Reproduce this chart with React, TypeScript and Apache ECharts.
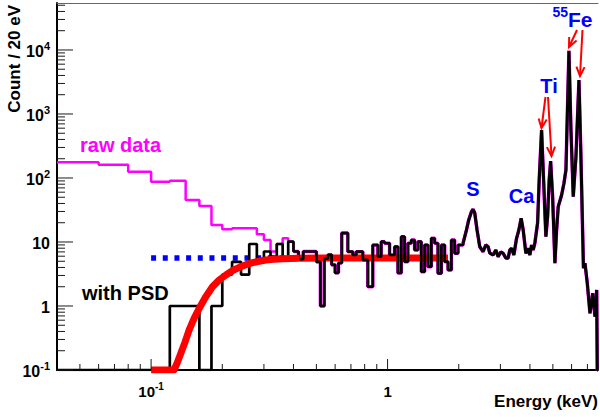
import React, { useEffect, useRef } from 'react';
import * as echarts from 'echarts';

// ---------- axis ranges & ticks (keV, counts / 20 eV) ----------
const X_MIN = 0.04;
const X_MAX = 7.76;
const Y_MIN = 0.1;
const Y_MAX = 54200;

const xMajorTicks = [0.1, 1];
const xMinorTicks = [0.05, 0.06, 0.07, 0.08, 0.09, 0.2, 0.3, 0.4, 0.5, 0.6, 0.7, 0.8, 0.9, 2, 3, 4, 5, 6, 7];
const yMajorTicks = [0.1, 1, 10, 100, 1000, 10000];
const yMinorFactors = [2, 3, 4, 5, 6, 7, 8, 9];

// ---------- raw data (magenta), bins: left edges ----------
const rawEdges = [0.04, 0.06, 0.08, 0.10, 0.12, 0.14, 0.16, 0.18, 0.20, 0.22, 0.28, 0.30, 0.32, 0.34, 0.36, 0.38];
const rawCounts = [176, 161, 125, 87.5, 90.7, 45.3, 36.5, 18.4, 15.8, 16.4, 13.2, 10.7, 7.1, 9.3, 11.4, 10.1];

// ---------- with PSD (black), histogram part: left edges ----------
const psdStepE = [0.04, 0.12, 0.14, 0.16, 0.18, 0.20, 0.22, 0.24, 0.26, 0.28, 0.30, 0.32, 0.34, 0.36, 0.38,
  0.40, 0.42, 0.44, 0.46, 0.48, 0.50, 0.52, 0.54, 0.56, 0.58, 0.60, 0.62, 0.64, 0.679, 0.713, 0.737, 0.786,
  0.825, 0.866, 0.910, 0.940, 0.971, 1.020, 1.071, 1.106, 1.143, 1.180, 1.219, 1.260, 1.301, 1.344, 1.389,
  1.435, 1.482, 1.532, 1.582, 1.633, 1.689, 1.744, 1.801, 1.862, 1.922, 1.986, 2.085];
const psdStepC = [0, 1, 1, 0, 1, 3.1, 4.9, 3.1, 9.3, 5.0, 7.1, 5.9, 9.3, 5.4, 10.1,
  7.1, 5.4, 7.1, 7.1, 7.1, 4.9, 1.0, 5.5, 6.3, 4.4, 3.3, 4.7, 13.8, 7.05, 6.26, 7.05, 5.24,
  2.0, 8.98, 5.89, 10.1, 9.55, 6.26, 8.45, 3.28, 12.1, 4.92, 9.55, 10.7, 7.5, 10.1, 3.44,
  8.98, 4.11, 11.4, 9.55, 3.24, 8.98, 4.92, 3.65, 10.7, 6.66, 8.98, 9.55];

// ---------- with PSD (black), fine-binned peak region ----------
const psdLineE = [2.085, 2.156, 2.204, 2.263, 2.298, 2.337, 2.390, 2.454, 2.534, 2.602,
  2.661, 2.705, 2.794, 2.869, 2.934, 3.012, 3.081, 3.162, 3.234, 3.288,
  3.344, 3.420, 3.511, 3.591, 3.672, 3.745, 3.845, 3.932, 3.998, 4.064,
  4.128, 4.197, 4.309, 4.377, 4.480, 4.672, 4.750, 4.825, 4.892, 4.988,
  5.101, 5.186, 5.268, 5.445, 5.570, 5.679, 5.848, 5.963, 6.099, 6.261,
  6.447, 6.561, 6.736, 6.835, 6.992, 7.178, 7.370, 7.536, 7.661, 7.705, 7.76];
const psdLineC = [9.55, 15.4, 22.1, 29.7, 32.4, 28.4, 15.4, 8.45, 7.05, 8.98,
  8.45, 6.73, 6.26, 7.5, 5.89, 6.98, 6.66, 5.62, 5.58, 7.5,
  7.97, 6.26, 11.4, 15.4, 23.5, 15.4, 6.66, 7.97, 6.26, 8.98,
  7.5, 9.64, 19.8, 93, 562, 12.1, 24.9, 93, 184, 51.1,
  4.65, 15.4, 35.6, 54.2, 82.6, 133, 9750, 562, 51.1, 215,
  3398, 274, 3.9, 4.65, 2.26, 0.77, 1.58, 0.68, 1.78, 0, 0];

// ---------- fit (red) and flat level (blue dotted) ----------
const fitE = [0.10, 0.125, 0.1290, 0.1336, 0.1390, 0.1449, 0.1520, 0.1598, 0.1700, 0.1818, 0.1940, 0.2072, 0.220, 0.236, 0.2520, 0.2687, 0.286, 0.306, 0.330, 0.360, 0.390, 0.424, 0.55, 0.8, 1.2, 1.8];
const fitC = [0.1, 0.1, 0.13, 0.182, 0.27, 0.422, 0.64, 0.92, 1.38, 2.0, 2.55, 3.05, 3.55, 4.02, 4.42, 4.75, 5.0, 5.23, 5.38, 5.48, 5.54, 5.56, 5.6, 5.6, 5.6, 5.6];
const flatE = [0.1, 1.8];
const flatC = [5.6, 5.6];

const FONT = '"Liberation Sans", Arial, Helvetica, sans-serif';
const L10 = Math.log10;
const pt = (e: number, c: number) => [L10(e), L10(Math.max(c, Y_MIN))];
const zip = (es: number[], cs: number[]) => es.map((e, i) => pt(e, cs[i]));

const GRID = { left: 57, right: 2, top: 3, bottom: 47 };
const W = 600, H = 417;

function arrow(from: number[], to: number[]) {
  const dx = to[0] - from[0], dy = to[1] - from[1];
  const len = Math.hypot(dx, dy);
  const ux = dx / len, uy = dy / len;
  const L = 10, th = 0.42;
  const arm = (s: number) => {
    const c = Math.cos(s * th), sn = Math.sin(s * th);
    const rx = ux * c - uy * sn, ry = ux * sn + uy * c;
    return [to[0] - L * rx, to[1] - L * ry];
  };
  const st = { stroke: '#ff0000', lineWidth: 2, fill: 'none' };
  return [
    { type: 'polyline', silent: true, z: 100, shape: { points: [from, to] }, style: st },
    { type: 'polyline', silent: true, z: 100, shape: { points: [arm(1), to, arm(-1)] }, style: st },
  ];
}

function txt(text: string, x: number, y: number, size: number, color: string, align = 'left', extra: any = {}) {
  return {
    type: 'text', x, y, silent: true, z: 100, ...extra,
    style: {
      text, fill: color, font: `bold ${size}px ${FONT}`,
      align, textAlign: align, verticalAlign: 'middle', textVerticalAlign: 'middle',
    },
  };
}

function annotations() {
  return [
    txt('Count / 20 eV', 14.5, 5, 17, '#000', 'right', { rotation: Math.PI / 2 }),
    txt('Energy (keV)', 598, 401, 17, '#000', 'right'),
    txt('raw data', 80, 145, 20, '#ff00ff'),
    txt('with PSD', 82, 293, 20, '#000'),
    txt('S', 473, 189, 20, '#0000ff', 'center'),
    txt('Ca', 521.5, 196, 20, '#0000ff', 'center'),
    txt('Ti', 549, 86, 20, '#0000ff', 'center'),
    txt('55', 568, 12, 14, '#0000ff', 'right'),
    txt('Fe', 568, 19.5, 21, '#0000ff', 'left'),
    ...arrow([545.5, 97], [541.5, 128]),
    ...arrow([548, 97], [551.5, 156]),
    ...arrow([577, 30], [569, 47]),
    ...arrow([582.5, 30], [580, 76]),
  ];
}

// Tick marks drawn as tiny line series in data space (log10 units),
// with lengths converted from pixels through the axis ranges.
function tickSeries() {
  const lx0 = L10(X_MIN), lx1 = L10(X_MAX), ly0 = L10(Y_MIN), ly1 = L10(Y_MAX);
  const gw = W - GRID.left - GRID.right, gh = H - GRID.top - GRID.bottom;
  const dyPerPx = (ly1 - ly0) / gh;
  const dxPerPx = (lx1 - lx0) / gw;
  const yMinor = yMajorTicks.flatMap(d => yMinorFactors.map(k => k * d)).filter(v => v < Y_MAX);
  const mk = (data: number[][]) => ({
    type: 'line', symbol: 'none', showSymbol: false, silent: true, clip: false, animation: false,
    xAxisIndex: 0, yAxisIndex: 0, z: 20, data,
    lineStyle: { color: '#1a1a1a', width: 1 },
  });
  const out: any[] = [];
  xMajorTicks.forEach(v => out.push(mk([[L10(v), ly0], [L10(v), ly0 + 11 * dyPerPx]])));
  xMinorTicks.forEach(v => out.push(mk([[L10(v), ly0], [L10(v), ly0 + 6 * dyPerPx]])));
  yMajorTicks.forEach(v => out.push(mk([[lx0, L10(v)], [lx0 + 16 * dxPerPx, L10(v)]])));
  yMinor.forEach(v => out.push(mk([[lx0, L10(v)], [lx0 + 8 * dxPerPx, L10(v)]])));
  return out;
}

function buildOption() {
  const rawLow = rawEdges.map((e, i) => pt(e, rawCounts[i]));
  const i40 = psdStepE.indexOf(0.40);
  rawLow.push(pt(0.40, psdStepC[i40]));
  const psdStep = zip(psdStepE, psdStepC);
  const psdUnder = psdStep.slice(i40);
  const psdLine = zip(psdLineE, psdLineC);
  const fitAll = zip(fitE, fitC);
  const split = fitE.indexOf(0.424);
  const fitLow = fitAll.slice(0, split + 1);
  const fitHigh = fitAll.slice(split);

  const sup = (v: number) => {
    const n = Math.round(v);
    if (n === 0) return '{m|1}';
    if (n === 1) return '{m|10}';
    return '{m|10}{s|' + n + '}';
  };

  const base = { type: 'line', symbol: 'none', showSymbol: false, silent: true, clip: true, animation: false, xAxisIndex: 0, yAxisIndex: 0 };

  return {
    animation: false,
    backgroundColor: '#ffffff',
    grid: { ...GRID, containLabel: false, outerBoundsMode: 'none' },
    xAxis: [
      {
        type: 'value', min: L10(X_MIN), max: L10(X_MAX), position: 'bottom',
        axisLine: { show: true, onZero: false, lineStyle: { color: '#000', width: 2 } },
        axisTick: { show: false },
        axisLabel: {
          show: true, customValues: xMajorTicks.map(L10), margin: 11, formatter: sup, color: '#000',
          rich: {
            m: { fontSize: 15, fontWeight: 'bold', fontFamily: FONT, color: '#000', lineHeight: 18, verticalAlign: 'bottom' },
            s: { fontSize: 10, fontWeight: 'bold', fontFamily: FONT, color: '#000', lineHeight: 10, verticalAlign: 'top' },
          },
        },
        splitLine: { show: false },
      },
      {
        type: 'value', min: L10(X_MIN), max: L10(X_MAX), position: 'top',
        axisLine: { show: true, onZero: false, lineStyle: { color: '#666', width: 1 } },
        axisTick: { show: false }, axisLabel: { show: false }, splitLine: { show: false },
      },
    ],
    yAxis: [
      {
        type: 'value', min: L10(Y_MIN), max: L10(Y_MAX), position: 'left',
        axisLine: { show: true, onZero: false, lineStyle: { color: '#000', width: 2 } },
        axisTick: { show: false },
        axisLabel: {
          show: true, customValues: yMajorTicks.map(L10), margin: 7, formatter: sup, color: '#000',
          rich: {
            m: { fontSize: 16, fontWeight: 'bold', fontFamily: FONT, color: '#000', lineHeight: 19, verticalAlign: 'bottom' },
            s: { fontSize: 11, fontWeight: 'bold', fontFamily: FONT, color: '#000', lineHeight: 11, verticalAlign: 'top' },
          },
        },
        splitLine: { show: false },
      },
    ],
    series: [
      { ...base, name: 'raw (under)', step: 'end', data: psdUnder, lineStyle: { color: '#ff00ff', width: 3.5 }, z: 1 },
      { ...base, name: 'raw (under, fine)', data: psdLine, lineStyle: { color: '#ff00ff', width: 3.5 }, z: 1 },
      { ...base, name: 'raw data', step: 'end', data: rawLow, lineStyle: { color: '#ff00ff', width: 2.5 }, z: 2 },
      { ...base, name: 'flat', data: zip(flatE, flatC), lineStyle: { color: '#0000ff', width: 5.5, type: [5, 6.67], cap: 'butt' }, z: 3 },
      { ...base, name: 'fit plateau', data: fitHigh, lineStyle: { color: '#ff0000', width: 7 }, z: 4 },
      { ...base, name: 'with PSD', step: 'end', data: psdStep, lineStyle: { color: '#000000', width: 2.7 }, z: 5 },
      { ...base, name: 'with PSD fine', data: psdLine, lineStyle: { color: '#000000', width: 3 }, z: 5 },
      { ...base, name: 'fit', data: fitLow, lineStyle: { color: '#ff0000', width: 7, join: 'round' }, z: 6 },
      ...tickSeries(),
    ],
    graphic: annotations(),
  };
}

export default function App() {
  const ref = useRef<HTMLDivElement>(null);
  useEffect(() => {
    if (!ref.current) return;
    const chart = echarts.init(ref.current, undefined, { renderer: 'svg' });
    chart.setOption(buildOption() as any);
    return () => chart.dispose();
  }, []);
  return <div ref={ref} style={{ position: 'fixed', left: 0, top: 0, width: W, height: H, background: '#fff' }} />;
}
